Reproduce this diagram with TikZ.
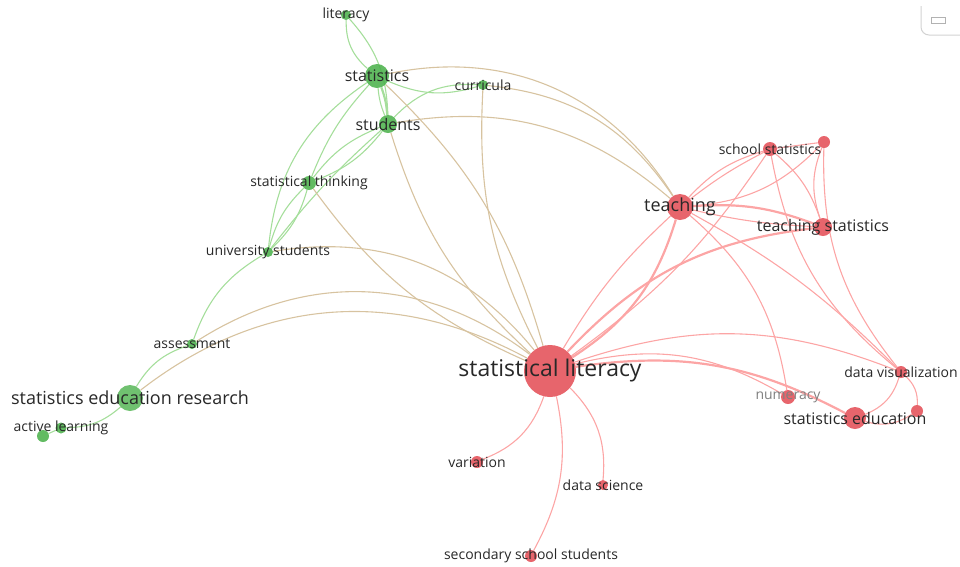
\documentclass[tikz,border=0pt]{standalone}
\usepackage{fontspec}
\setmainfont{Open Sans}
\usetikzlibrary{backgrounds}
\definecolor{kwgreen}{RGB}{76,178,76}
\definecolor{kwred}{RGB}{228,80,88}
\definecolor{lblgray}{RGB}{40,40,40}
\definecolor{lkgreen}{RGB}{165,222,155}
\definecolor{lkred}{RGB}{252,165,165}
\definecolor{lkmix}{RGB}{215,195,160}

\begin{document}
\begin{tikzpicture}[x=1pt,y=1pt,
    kw/.style={circle,inner sep=0pt,draw=none,fill opacity=0.88},
    gkw/.style={kw,fill=kwgreen},
    rkw/.style={kw,fill=kwred},
    lbl/.style={text=lblgray,inner sep=0pt,font=\fontsize{#1}{#1}\selectfont},
    glink/.style={draw=lkgreen,line width=1.1pt},
    mlink/.style={draw=lkmix,line width=1.1pt},
    rlink/.style={draw=lkred,line width=1.1pt},
    thick link/.style={line width=2.2pt}]
        \useasboundingbox (0,0) rectangle (960,-566);
        % green cluster
        \node[gkw,minimum size=10pt,label={[lbl=14]center:literacy}] (literacy) at (346,-15) {};
        \node[gkw,minimum size=24pt,label={[lbl=16]center:statistics}] (statistics) at (377,-76) {};
        \node[gkw,minimum size=10pt,label={[lbl=14]center:curricula}] (curricula) at (483,-85) {};
        \node[gkw,minimum size=18pt,label={[lbl=16]center:students}] (students) at (388,-124) {};
        \node[gkw,minimum size=14pt,label={[lbl=14]center:statistical thinking}] (statthinking) at (309,-183) {};
        \node[gkw,minimum size=10pt,label={[lbl=14]center:university students}] (unistudents) at (268,-252) {};
        \node[gkw,minimum size=10pt,label={[lbl=14]center:assessment}] (assessment) at (192,-344) {};
        \node[gkw,minimum size=26pt,fill opacity=0.8,label={[lbl=18]center:statistics education research}] (ser) at (130,-398) {};
        \node[gkw,minimum size=12pt] (alnode) at (43,-436) {};
        \node[gkw,minimum size=11pt,label={[lbl=14]center:active learning}] (activelearning) at (61,-428) {};
        % red cluster
        \node[rkw,minimum size=52pt,label={[lbl=23]center:statistical literacy}] (statlit) at (550,-371) {};
        \node[rkw,minimum size=26pt,label={[lbl=18]center:teaching}] (teaching) at (680,-207) {};
        \node[rkw,minimum size=12pt] (red1) at (824,-142) {};
        \node[rkw,minimum size=14pt,label={[lbl=14]center:school statistics}] (schoolstat) at (770,-149) {};
        \node[rkw,minimum size=18pt,label={[lbl=16]center:teaching statistics}] (teachstat) at (823,-227) {};
        \node[rkw,minimum size=12pt,label={[lbl=14]center:data visualization}] (datavis) at (901,-372) {};
        \node[rkw,minimum size=14pt,label={[lbl=14,text=gray]center:numeracy}] (numeracy) at (788,-397) {};
        \node[rkw,minimum size=12pt] (red2) at (917,-411) {};
        \node[rkw,minimum size=22pt,label={[lbl=16]center:statistics education}] (stated) at (855,-418) {};
        \node[rkw,minimum size=12pt,label={[lbl=14]center:variation}] (variation) at (477,-462) {};
        \node[rkw,minimum size=10pt,label={[lbl=14]center:data science}] (datascience) at (603,-485) {};
        \node[rkw,minimum size=12pt,label={[lbl=14]center:secondary school students}] (secondary) at (531,-556) {};

        \begin{pgfonlayer}{background}
        \draw[glink] (literacy) to[bend right=25] (statistics);
        \draw[glink] (literacy) to[bend left=20] (students);
        \draw[glink,thick link] (statistics) to[bend left=8] (students);
        \draw[glink] (statistics) to[bend right=8] (students);
        \draw[glink] (statistics) to[bend right=20] (curricula);
        \draw[glink] (students) to[bend left=25] (curricula);
        \draw[glink] (statistics) to[bend right=25] (unistudents);
        \draw[glink] (statistics) to[bend right=10] (statthinking);
        \draw[glink] (students) to[bend left=15] (statthinking);
        \draw[glink] (students) to[bend right=15] (statthinking);
        \draw[glink] (students) to[bend right=5] (unistudents);
        \draw[glink] (statthinking) to[bend left=15] (unistudents);
        \draw[glink] (statthinking) to[bend right=15] (unistudents);
        \draw[glink] (unistudents) to[bend right=20] (assessment);
        \draw[glink] (assessment) to[bend right=20] (ser);
        \draw[glink] (ser) to[bend left=20] (activelearning);
        \draw[glink] (activelearning) -- (alnode);

        \draw[mlink] (statistics) to[bend left=35] (teaching);
        \draw[mlink] (curricula) to[bend left=25] (teaching);
        \draw[mlink] (students) to[bend left=25] (teaching);
        \draw[mlink] (statistics) to[bend left=15] (statlit);
        \draw[mlink] (students) to[bend right=15] (statlit);
        \draw[mlink] (curricula) to[bend right=15] (statlit);
        \draw[mlink] (statthinking) to[bend right=15] (statlit);
        \draw[mlink] (unistudents) to[bend left=30] (statlit);
        \draw[mlink] (assessment) to[bend left=35] (statlit);
        \draw[mlink] (ser) to[bend left=33] (statlit);

        \draw[rlink,thick link] (teaching) to[bend left=20] (statlit);
        \draw[rlink] (teaching) to[bend right=8] (statlit);
        \draw[rlink] (teaching) to[bend left=15] (schoolstat);
        \draw[rlink] (teaching) to[bend left=5] (schoolstat);
        \draw[rlink] (teaching) to[bend right=20] (red1);
        \draw[rlink,thick link] (teaching) to[bend left=12] (teachstat);
        \draw[rlink] (teaching) to[bend right=5] (teachstat);
        \draw[rlink] (teaching) to[bend left=20] (numeracy);
        \draw[rlink] (teaching) to[bend left=8] (datavis);
        \draw[rlink] (schoolstat) -- (red1);
        \draw[rlink] (schoolstat) to[bend left=15] (teachstat);
        \draw[rlink] (schoolstat) to[bend right=20] (datavis);
        \draw[rlink] (schoolstat) to[bend left=10] (statlit);
        \draw[rlink] (red1) to[bend right=20] (teachstat);
        \draw[rlink] (red1) to[bend right=20] (datavis);
        \draw[rlink,thick link] (teachstat) to[bend right=20] (statlit);
        \draw[rlink] (statlit) to[bend left=20] (datavis);
        \draw[rlink,thick link] (statlit) to[bend left=18] (stated);
        \draw[rlink] (statlit) to[bend left=22] (numeracy);
        \draw[rlink] (stated) to[bend right=25] (datavis);
        \draw[rlink] (datavis) to[bend left=25] (red2);
        \draw[rlink] (stated) to[bend right=25] (red2);
        \draw[rlink] (statlit) to[bend left=25] (variation);
        \draw[rlink] (statlit) to[bend left=25] (datascience);
        \draw[rlink] (statlit) to[bend left=20] (secondary);
        \end{pgfonlayer}

        \draw[gray!35,line width=1pt,rounded corners=8pt] (921,-6) -- (921,-35) -- (962,-35);
        \draw[gray!60,line width=0.8pt] (931,-17) rectangle (945,-23);
      \end{tikzpicture}
\end{document}
